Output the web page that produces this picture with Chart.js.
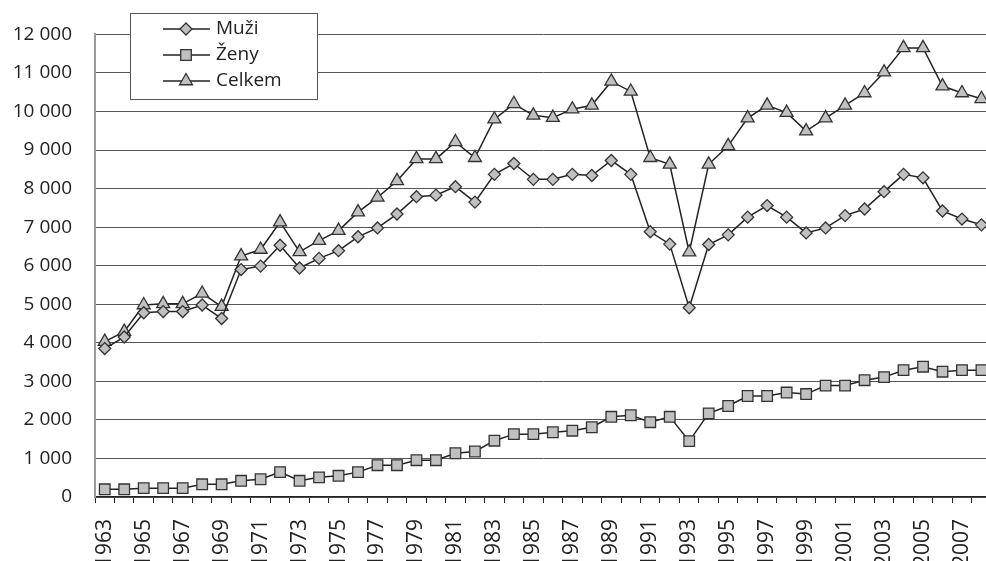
<!DOCTYPE html>
<html lang="cs">
<head>
  <meta charset="UTF-8">
  <title>Muži, Ženy, Celkem 1963–2008</title>
  <script src="https://cdn.jsdelivr.net/npm/chart.js"></script>
  <style>
    html, body { margin: 0; padding: 0; overflow: hidden; background: #fff; }
  </style>
</head>
<body>
  <canvas id="myChart" width="1000" height="561"></canvas>

  <script>
    // years on the x axis
    const years = [];
    for (let y = 1963; y <= 2008; y++) years.push(String(y));

    // values
    const muzi = [3850, 4150, 4780, 4810, 4810, 4980, 4630, 5900, 5990, 6530,
                  5940, 6190, 6390, 6750, 6980, 7340, 7790, 7830, 8050, 7650,
                  8370, 8650, 8240, 8240, 8370, 8340, 8730, 8370, 6880, 6560,
                  4910, 6550, 6800, 7260, 7560, 7260, 6850, 6980, 7300, 7470,
                  7920, 8370, 8280, 7420, 7210, 7060];
    const zeny = [200, 200, 230, 230, 230, 330, 330, 420, 460, 645,
                  420, 510, 550, 645, 825, 825, 955, 955, 1135, 1180,
                  1460, 1630, 1630, 1680, 1720, 1810, 2080, 2120, 1940, 2080,
                  1450, 2170, 2360, 2620, 2620, 2710, 2670, 2890, 2890, 3030,
                  3110, 3290, 3380, 3250, 3290, 3290];
    const celkem = [4030, 4290, 4980, 5010, 5010, 5280, 4940, 6250, 6420, 7130,
                    6360, 6650, 6910, 7390, 7770, 8200, 8770, 8770, 9210, 8800,
                    9800, 10200, 9900, 9840, 10060, 10160, 10780, 10520, 8800, 8630,
                    6350, 8630, 9110, 9830, 10160, 9970, 9490, 9830, 10160, 10480,
                    11020, 11650, 11650, 10660, 10480, 10330];

    const yTicks = [0, 1000, 2000, 3000, 4000, 5000, 6000, 7000, 8000, 9000, 10000, 11000, 12000];

    const FONT = '"Open Sans", sans-serif';
    const markFill = '#c0c0c0';
    const markLine = '#333';

    function fmt(v) {
      return String(v).replace(/\B(?=(\d{3})+(?!\d))/g, ' ');
    }

    function series(label, data, style, radius) {
      return {
        label: label,
        data: data,
        borderColor: '#222',
        borderWidth: 1.5,
        pointStyle: style,
        pointRadius: radius,
        pointBackgroundColor: markFill,
        pointBorderColor: markLine,
        pointBorderWidth: 1.3,
        tension: 0,
        fill: false
      };
    }

    // small shape drawing for the legend box
    function drawMark(ctx, style, x, y, r) {
      ctx.beginPath();
      if (style === 'rectRot') {
        ctx.moveTo(x - r, y); ctx.lineTo(x, y - r); ctx.lineTo(x + r, y); ctx.lineTo(x, y + r);
      } else if (style === 'rect') {
        const s = r * Math.SQRT1_2;
        ctx.rect(x - s, y - s, 2 * s, 2 * s);
      } else {
        const h = r * Math.sqrt(3) / 2;
        ctx.moveTo(x, y - r); ctx.lineTo(x + h, y + r / 2); ctx.lineTo(x - h, y + r / 2);
      }
      ctx.closePath();
      ctx.fillStyle = markFill;
      ctx.fill();
      ctx.lineWidth = 1.3;
      ctx.strokeStyle = markLine;
      ctx.stroke();
    }

    const boxLegend = {
      id: 'boxLegend',
      afterDraw(chart) {
        const ctx = chart.ctx;
        ctx.save();
        ctx.fillStyle = '#fff';
        ctx.fillRect(130.5, 13.5, 187, 86);
        ctx.strokeStyle = '#555';
        ctx.lineWidth = 1;
        ctx.strokeRect(130.5, 13.5, 187, 86);
        chart.data.datasets.forEach((ds, i) => {
          const y = 29 + i * 26;
          ctx.beginPath();
          ctx.moveTo(163, y); ctx.lineTo(210, y);
          ctx.strokeStyle = '#222';
          ctx.lineWidth = 1.3;
          ctx.stroke();
          drawMark(ctx, ds.pointStyle, 186, y, ds.pointRadius);
          ctx.fillStyle = '#222';
          ctx.font = '19px ' + FONT;
          ctx.textBaseline = 'middle';
          ctx.fillText(ds.label, 216, y);
        });
        ctx.restore();
      }
    };

    const ctx = document.getElementById('myChart').getContext('2d');
    const chart = new Chart(ctx, {
      type: 'line',
      data: {
        labels: years,
        datasets: [
          series('Muži', muzi, 'rectRot', 6),
          series('Ženy', zeny, 'rect', 7.5),
          series('Celkem', celkem, 'triangle', 7.5)
        ]
      },
      options: {
        responsive: false,
        animation: false,
        layout: { padding: { top: 32, right: 5, left: 0, bottom: 0 } },
        plugins: { legend: { display: false }, tooltip: { enabled: false } },
        scales: {
          x: {
            offset: true,
            grid: { offset: true, drawOnChartArea: false, drawTicks: true, tickLength: 6, color: '#222' },
            border: { color: '#222', width: 1.2 },
            ticks: {
              autoSkip: false,
              maxRotation: 90,
              minRotation: 90,
              padding: 16,
              color: '#222',
              font: { family: FONT, size: 21 },
              callback: function (val, idx) { return idx % 2 === 0 ? years[idx] : ''; }
            },
            afterFit(scale) {
              scale.height = 64;
              scale.paddingLeft = 0;
              scale.paddingRight = 0;
            }
          },
          y: {
            min: 0,
            max: 12000,
            afterBuildTicks(scale) { scale.ticks = yTicks.map(v => ({ value: v })); },
            grid: { drawTicks: false, color: '#555', lineWidth: 1 },
            border: { color: '#999', width: 2 },
            ticks: {
              padding: 23,
              color: '#222',
              font: { family: FONT, size: 19 },
              callback: v => fmt(v)
            },
            afterFit(scale) { scale.width = 95; }
          }
        }
      },
      plugins: [boxLegend]
    });
  </script>
</body>
</html>
